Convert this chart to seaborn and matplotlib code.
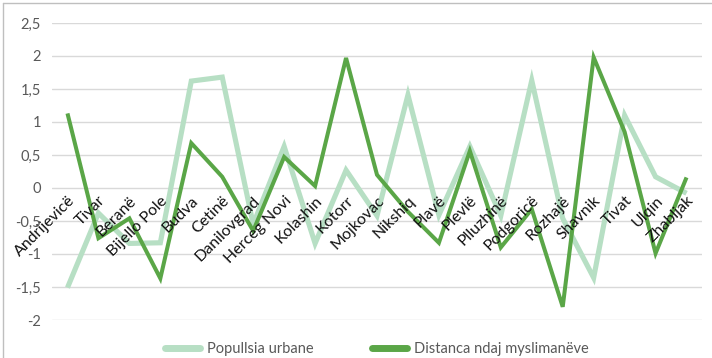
import matplotlib
matplotlib.use("Agg")
import matplotlib.pyplot as plt
from matplotlib.lines import Line2D
import seaborn as sns
import pandas as pd

cities = ["Andrijevicë", "Tivar", "Beranë", "Bijello Pole", "Budva", "Cetinë",
          "Danilovgrad", "Herceg Novi", "Kolashin", "Kotorr", "Mojkovac",
          "Nikshiq", "Plavë", "Plevlë", "Plluzhinë", "Podgoricë", "Rozhajë",
          "Shavnik", "Tivat", "Ulqin", "Zhabljak"]

urban = [-1.51, -0.38, -0.84, -0.83, 1.62, 1.68, -0.55, 0.63, -0.84, 0.27,
         -0.42, 1.41, -0.41, 0.63, -0.42, 1.63, -0.46, -1.36, 1.1, 0.17, -0.08]

distance = [1.13, -0.76, -0.46, -1.37, 0.68, 0.17, -0.65, 0.47, 0.03, 1.97,
            0.2, -0.36, -0.83, 0.56, -0.9, -0.32, -1.8, 1.98, 0.85, -0.99, 0.16]

series_names = ["Popullsia urbane", "Distanca ndaj myslimanëve"]
yticks = [-2, -1.5, -1, -0.5, 0, 0.5, 1, 1.5, 2, 2.5]

df = pd.DataFrame({
    "pos": list(range(len(cities))) * 2,
    "value": urban + distance,
    "series": [series_names[0]] * len(cities) + [series_names[1]] * len(cities),
})

sns.set_theme(style="white")
plt.rcParams["font.family"] = ["Lato", "DejaVu Sans"]

fig = plt.figure(figsize=(7.12, 3.58), dpi=100)
ax = fig.add_axes([52 / 712, 1 - 320 / 358, 650 / 712, 297 / 358])

# gridlines drawn by hand so the city labels can sit above the data lines
for t in yticks:
    ax.axhline(t, color="#d9d9d9", linewidth=1, zorder=0.5)

palette = {series_names[0]: "#b7dfc4", series_names[1]: "#5aa647"}
sns.lineplot(data=df, x="pos", y="value", hue="series", palette=palette,
             sort=False, ax=ax, legend=True)
widths = [3.7, 2.9]
for line, w in zip(ax.get_lines()[len(yticks):len(yticks) + 2], widths):
    line.set_linewidth(w)
    line.set_solid_joinstyle("miter")
    line.set_solid_capstyle("butt")

# x axis sits on the zero line; set this before styling the ticks
ax.spines["bottom"].set_position(("data", 0))
for s in ["top", "right", "left", "bottom"]:
    ax.spines[s].set_visible(False)
ax.set_axisbelow(False)

ax.set_xlim(-0.5, len(cities) - 0.5)
ax.set_ylim(-2, 2.5)
ax.set_yticks(yticks)
ax.set_yticklabels([f"{t:g}".replace(".", ",") for t in yticks],
                   color="#595959", fontsize=10.5)
ax.set_xlabel("")
ax.set_ylabel("")

ax.set_xticks(range(len(cities)))
ax.set_xticklabels(cities, rotation=45, ha="right", va="top",
                   rotation_mode="anchor", fontsize=11.5, color="#111111")
ax.tick_params(axis="x", length=0, pad=4)
ax.tick_params(axis="y", length=0, pad=8)

sns.move_legend(ax, "upper center", bbox_to_anchor=(0.5, -0.03), ncol=2,
                frameon=False, title=None, fontsize=10.5, handlelength=2.4,
                columnspacing=4.0, handletextpad=0.5)
leg = ax.get_legend()
for h in leg.legend_handles:
    h.set_linewidth(5)
    h.set_solid_capstyle("round")
for t in leg.get_texts():
    t.set_color("#595959")

fig.add_artist(Line2D([3 / 712, 3 / 712], [0, 1 - 3 / 358], color="#bfbfbf", lw=1))
fig.add_artist(Line2D([3 / 712, 1], [1 - 3 / 358, 1 - 3 / 358], color="#bfbfbf", lw=1))

fig.savefig("out.png", dpi=100)
